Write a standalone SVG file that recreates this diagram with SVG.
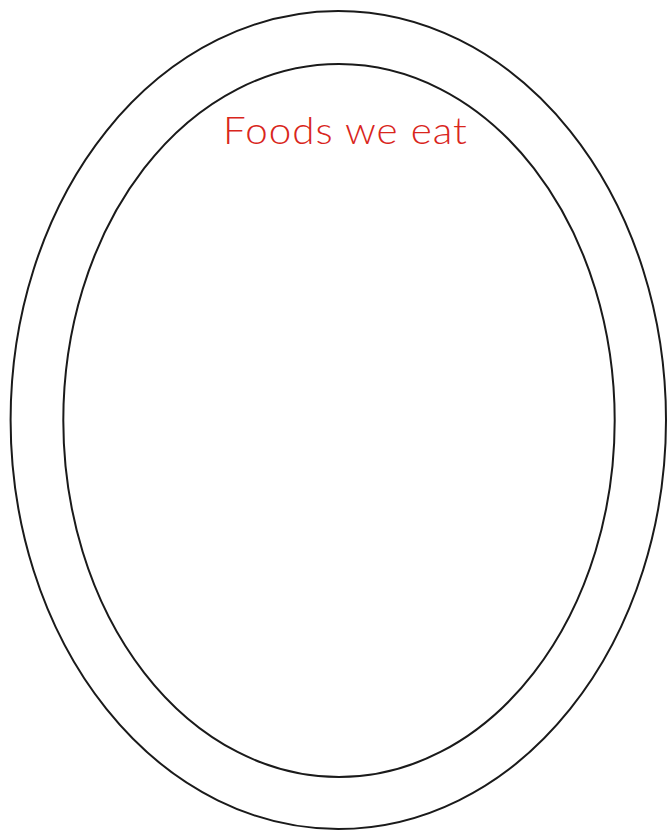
<svg xmlns="http://www.w3.org/2000/svg" width="667" height="831" viewBox="0 0 667 831">
<style>
.ring{fill:none;stroke:#1a1a1a;stroke-width:2}
.title{font-family:Lato,"Open Sans","Liberation Sans",sans-serif;font-size:38px;font-weight:300;letter-spacing:1px;fill:#d9261c}
</style>
<rect width="667" height="831" fill="#fff"/>
<g id="outer"><ellipse class="ring" cx="338.3" cy="420" rx="327.7" ry="409"/></g>
<g id="inner"><ellipse class="ring" cx="339" cy="420.5" rx="275.7" ry="356.5"/></g>
<g id="label"><text class="title" x="345.5" y="144" text-anchor="middle" textLength="245" lengthAdjust="spacingAndGlyphs">Foods we eat</text></g>
<g id="connectors"/>
</svg>
